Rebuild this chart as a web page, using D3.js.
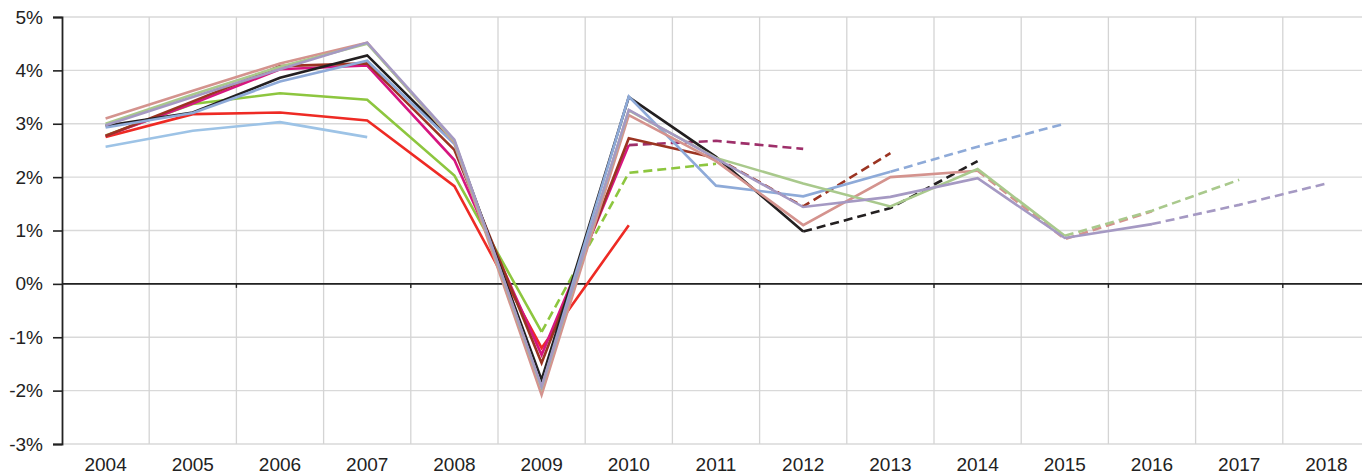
<!DOCTYPE html>
<html><head><meta charset="utf-8">
<script src="https://cdn.jsdelivr.net/npm/d3@7/dist/d3.min.js"></script>
<style>
html,body{margin:0;padding:0;background:#fff;overflow:hidden}
text{font-family:"Liberation Sans",Arial,Helvetica,sans-serif;fill:#222}
</style></head>
<body><svg id="c" width="1362" height="476"></svg>
<script>
const years = [2004,2005,2006,2007,2008,2009,2010,2011,2012,2013,2014,2015,2016,2017,2018];
const yTicks = [-3,-2,-1,0,1,2,3,4,5];
const _ = null;
// solid (outturn) series
const lightBlue = [2.57,2.87,3.03,2.75,_,_,_,_,_,_,_,_,_,_,_];
const red       = [2.75,3.18,3.21,3.06,1.83,-1.20,1.10,_,_,_,_,_,_,_,_];
const green     = [2.78,3.37,3.57,3.45,2.03,-0.90,_,_,_,_,_,_,_,_,_];
const magenta   = [2.77,3.38,4.02,4.09,2.32,-1.33,2.60,_,_,_,_,_,_,_,_];
const brown     = [2.77,3.42,4.08,4.13,2.51,-1.48,2.73,2.36,_,_,_,_,_,_,_];
const black     = [2.96,3.21,3.86,4.28,2.66,-1.80,3.50,2.38,0.98,_,_,_,_,_,_];
const steel     = [2.93,3.20,3.79,4.18,2.62,-1.93,3.51,1.84,1.64,2.10,_,_,_,_,_];
const rosy      = [3.10,3.62,4.13,4.52,2.65,-2.08,3.16,2.30,1.10,2.00,2.12,_,_,_,_];
const sage      = [3.00,3.55,4.07,4.50,2.68,-1.95,3.25,2.36,1.88,1.45,2.15,0.90,_,_,_];
const lavender  = [2.97,3.50,4.02,4.52,2.70,-1.93,3.26,2.35,1.44,1.63,1.98,0.86,1.12,_,_];
// dashed (forecast) series
const greenF    = [_,_,_,_,_,-0.90,2.08,2.25,_,_,_,_,_,_,_];
const magentaF  = [_,_,_,_,_,_,2.60,2.68,2.53,_,_,_,_,_,_];
const brownF    = [_,_,_,_,_,_,_,2.36,1.45,2.45,_,_,_,_,_];
const blackF    = [_,_,_,_,_,_,_,_,0.98,1.42,2.30,_,_,_,_];
const steelF    = [_,_,_,_,_,_,_,_,_,2.10,2.57,3.00,_,_,_];
const rosyF     = [_,_,_,_,_,_,_,_,_,_,2.12,0.84,1.36,_,_];
const sageF     = [_,_,_,_,_,_,_,_,_,_,_,0.90,1.37,1.95,_];
const lavenderF = [_,_,_,_,_,_,_,_,_,_,_,_,1.12,1.48,1.88];

const series = [
  {v:lightBlue, c:"#9dc3e6"},
  {v:red, c:"#ee2a24"},
  {v:green, c:"#8dc63f"},
  {v:greenF, c:"#8dc63f", d:true},
  {v:magenta, c:"#d6157f"},
  {v:magentaF, c:"#9e2f6a", d:true},
  {v:brown, c:"#9b3422"},
  {v:brownF, c:"#9b3422", d:true},
  {v:black, c:"#231f20"},
  {v:blackF, c:"#231f20", d:true},
  {v:steel, c:"#8eaad8"},
  {v:steelF, c:"#8eaad8", d:true},
  {v:rosy, c:"#d4938e"},
  {v:rosyF, c:"#d4938e", d:true},
  {v:sage, c:"#a9c98c"},
  {v:sageF, c:"#a9c98c", d:true},
  {v:lavender, c:"#a599c3"},
  {v:lavenderF, c:"#a599c3", d:true}
];

const svg = d3.select("#c");
const L = 62, plotTop = 17, plotBottom = 444, step = 87.2;
const x = d3.scaleBand().domain(years).range([L, L + step*years.length]);
const y = d3.scaleLinear().domain([-3,5]).range([plotBottom, plotTop]);

// horizontal gridlines
svg.append("g").selectAll("line").data(yTicks).join("line")
  .attr("x1", L).attr("x2", 1362).attr("y1", d=>y(d)).attr("y2", d=>y(d))
  .attr("stroke", "#d9d9d9").attr("stroke-width", 1.3);
// vertical gridlines at band boundaries
svg.append("g").selectAll("line").data(years.slice(1)).join("line")
  .attr("x1", d=>x(d)).attr("x2", d=>x(d)).attr("y1", plotTop).attr("y2", plotBottom)
  .attr("stroke", "#d4d4d4").attr("stroke-width", 1.3);

// zero axis line with ticks every other boundary
svg.append("line").attr("x1", L).attr("x2", 1362).attr("y1", y(0)).attr("y2", y(0))
  .attr("stroke", "#222").attr("stroke-width", 1.6);
svg.append("g").selectAll("line").data(years.filter((d,i)=>i%2===0 && i>0)).join("line")
  .attr("x1", d=>x(d)).attr("x2", d=>x(d)).attr("y1", y(0)).attr("y2", y(0)+4)
  .attr("stroke", "#222").attr("stroke-width", 1.4);

// lines
const line = d3.line().defined(d=>d.v!==null).x(d=>x(d.yr)+x.bandwidth()/2).y(d=>y(d.v));
svg.append("g").selectAll("path").data(series).join("path")
  .attr("d", s=>line(s.v.map((v,i)=>({yr:years[i], v}))))
  .attr("fill","none").attr("stroke", s=>s.c).attr("stroke-width", 2.6)
  .attr("stroke-linejoin","miter")
  .attr("stroke-dasharray", s=>s.d ? "9,5" : null);

// left axis
const yAxis = d3.axisLeft(y).tickValues(yTicks).tickSize(9).tickPadding(10).tickFormat(d=>d+"%");
const ga = svg.append("g").attr("transform", `translate(${L},0)`).call(yAxis);
ga.select(".domain").attr("stroke","#222").attr("stroke-width",1.8);
ga.selectAll(".tick line").attr("stroke","#222").attr("stroke-width",1.6);
ga.selectAll("text").style("font-size","19px").attr("fill","#222");

// bottom labels
const xAxis = d3.axisBottom(x).tickSize(0).tickPadding(14);
const gx = svg.append("g").attr("transform", `translate(0,${plotBottom})`).call(xAxis);
gx.select(".domain").remove();
gx.selectAll("text").style("font-size","19px").attr("fill","#222");
</script></body></html>
